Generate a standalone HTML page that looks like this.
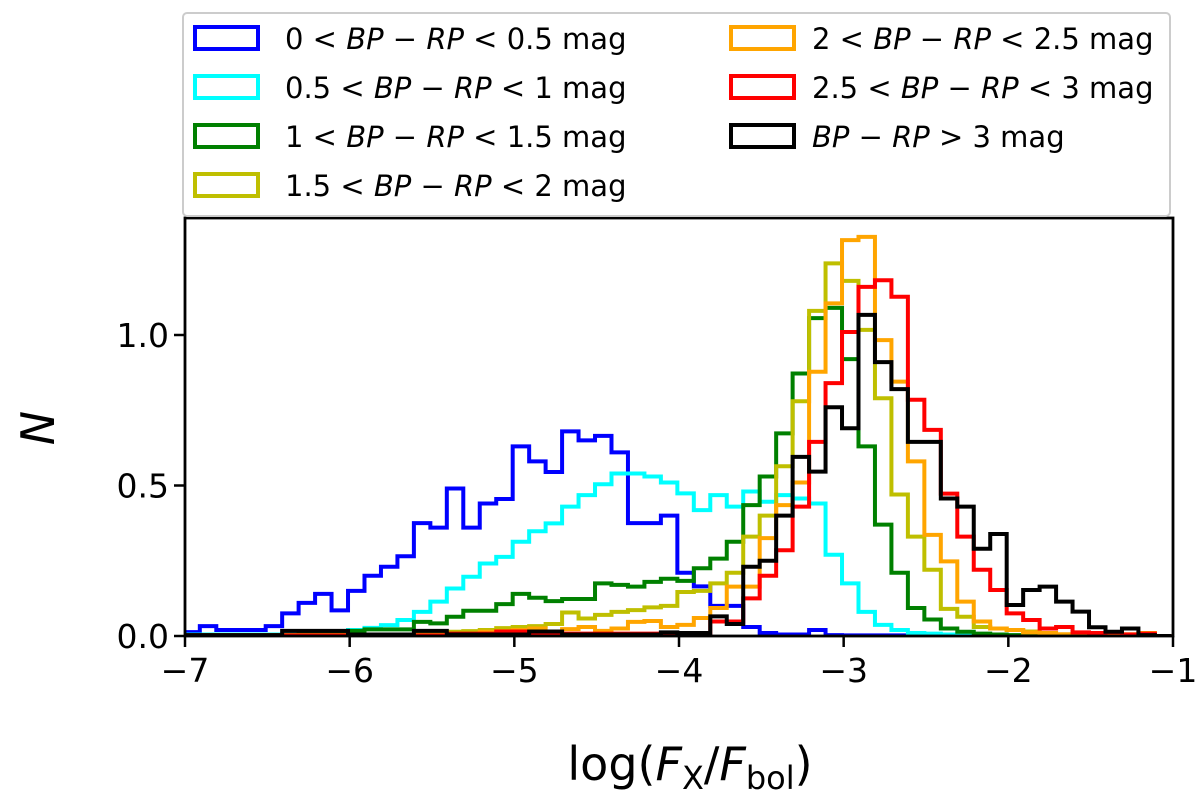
<!DOCTYPE html>
<html><head><meta charset="utf-8"><style>
html,body{margin:0;padding:0;background:#fff;}
svg{display:block;font-family:"DejaVu Sans","Liberation Sans",sans-serif;}
</style></head><body>
<svg id="chart" width="1200" height="803" viewBox="0 0 1200 803" xmlns="http://www.w3.org/2000/svg">
<defs><clipPath id="clip"><rect x="185" y="218" width="988" height="418"/></clipPath></defs>
<rect width="1200" height="803" fill="#fff"/>
<g id="series" clip-path="url(#clip)"></g>
<g id="axes"></g>
<g id="legend"></g>
</svg>
<script>
const binStart = -7.01;
const binWidth = 0.1;
const seriesNames = ["0-0.5","0.5-1","1-1.5","1.5-2","2-2.5","2.5-3",">3"];
const seriesColors = ["#0000ff","#00ffff","#008000","#bfbf00","#ffa500","#ff0000","#000000"];
const blueVals = [0.013,0.033,0.02,0.02,0.02,0.033,0.075,0.11,0.14,0.085,0.15,0.2,0.23,0.265,0.375,0.36,0.49,0.36,0.44,0.455,0.63,0.58,0.545,0.68,0.65,0.665,0.61,0.375,0.375,0.4,0.21,0.165,0.1,0.1,0.03,0.01,0.005,0.005,0.02,0.003,0.002,0.002,0.002,0.002,0.002,0.002,0.002,0.002,0.002,0.002,0,0,0,0,0,0,0,0,0,0];
const cyanVals = [0.005,0.005,0.005,0.005,0.005,0.005,0.008,0.005,0.005,0.016,0.02,0.027,0.036,0.053,0.08,0.114,0.158,0.197,0.241,0.263,0.313,0.348,0.374,0.43,0.468,0.504,0.54,0.54,0.53,0.51,0.474,0.418,0.468,0.43,0.48,0.446,0.468,0.457,0.44,0.27,0.175,0.08,0.037,0.02,0.01,0.008,0.005,0.004,0.002,0.002,0.002,0.002,0.002,0.002,0.002,0,0,0,0,0];
const greenVals = [0.003,0.003,0.003,0.003,0.003,0.003,0.003,0.005,0.008,0.008,0.017,0.022,0.022,0.022,0.047,0.042,0.064,0.084,0.084,0.106,0.14,0.127,0.116,0.123,0.123,0.175,0.17,0.164,0.18,0.19,0.183,0.225,0.257,0.313,0.435,0.53,0.673,0.872,1.056,1.09,0.92,0.63,0.37,0.21,0.093,0.055,0.025,0.014,0.008,0.005,0.003,0.003,0.003,0.003,0.003,0.003,0.002,0.002,0.002,0];
const oliveVals = [0.003,0.003,0.003,0.003,0.003,0.003,0.003,0.003,0.003,0.003,0.003,0.003,0.003,0.005,0.005,0.01,0.014,0.016,0.02,0.026,0.03,0.033,0.04,0.078,0.058,0.07,0.08,0.086,0.095,0.1,0.146,0.15,0.175,0.21,0.33,0.4,0.564,0.78,1.08,1.238,1.18,1.017,0.79,0.47,0.33,0.22,0.09,0.064,0.03,0.025,0.02,0.015,0.005,0.005,0.005,0.005,0.005,0.005,0.003,0];
const orangeVals = [0.002,0.002,0.002,0.002,0.002,0.002,0.002,0.002,0.002,0.002,0.002,0.002,0.002,0.002,0.002,0.002,0.002,0.002,0.014,0.016,0.02,0.025,0.014,0.023,0.03,0.017,0.025,0.047,0.05,0.03,0.037,0.06,0.093,0.164,0.164,0.325,0.435,0.51,0.878,1.105,1.315,1.326,0.983,0.845,0.58,0.336,0.248,0.114,0.048,0.025,0.02,0.012,0.01,0.006,0.006,0.006,0.006,0.006,0.01,0];
const redVals = [0.002,0.002,0.002,0.002,0.002,0.002,0.002,0.002,0.002,0.002,0.002,0.002,0.002,0.002,0.002,0.002,0.008,0.008,0.008,0.015,0.015,0.008,0.008,0.008,0.008,0.008,0.008,0.008,0.008,0.008,0.01,0.01,0.048,0.048,0.125,0.2,0.285,0.43,0.645,0.84,1.01,1.16,1.182,1.127,0.785,0.685,0.473,0.33,0.22,0.153,0.075,0.053,0.025,0.03,0.012,0.01,0.012,0.005,0.008,0];
const blackVals = [0.003,0.003,0.003,0.003,0.003,0.003,0.017,0.017,0.017,0.017,0.005,0.005,0.005,0.005,0.017,0.017,0.005,0.005,0.005,0.005,0.005,0.015,0.015,0.005,0.005,0.005,0.005,0.005,0.005,0.012,0.01,0.01,0.065,0.04,0.23,0.25,0.4,0.595,0.546,0.76,0.69,1.067,0.91,0.82,0.645,0.645,0.457,0.43,0.29,0.339,0.103,0.153,0.164,0.114,0.081,0.029,0.014,0.025,0.003,0];
const xTicks = [-7,-6,-5,-4,-3,-2,-1];
const xTickLabels = ["\u22127","\u22126","\u22125","\u22124","\u22123","\u22122","\u22121"];
const yTicks = [0,0.5,1.0];
const yTickLabels = ["0.0","0.5","1.0"];
const legendLabels = [
 ["0 < ","0.5 mag"],["0.5 < ","1 mag"],["1 < ","1.5 mag"],["1.5 < ","2 mag"],
 ["2 < ","2.5 mag"],["2.5 < ","3 mag"],["",""]
];

const NS="http://www.w3.org/2000/svg";
const X0=185,X1=1173,Y0=636,YT=218;
function xs(v){return X0+(v-(-7))*(X1-X0)/6;}
function ys(v){return Y0-v*301;}
function mk(tag,attrs,parent){const e=document.createElementNS(NS,tag);for(const k in attrs)e.setAttribute(k,attrs[k]);parent.appendChild(e);return e;}

const allVals=[blueVals,cyanVals,greenVals,oliveVals,orangeVals,redVals,blackVals];
const sg=document.getElementById('series');
allVals.forEach((vals,i)=>{
  let d="M"+xs(binStart)+","+ys(0);
  vals.forEach((v,j)=>{
    const a=xs(binStart+j*binWidth),b=xs(binStart+(j+1)*binWidth);
    d+=" L"+a+","+ys(v)+" L"+b+","+ys(v);
  });
  d+=" L"+xs(binStart+vals.length*binWidth)+","+ys(0);
  const p=mk('path',{d:d,fill:'none',stroke:seriesColors[i],'stroke-width':4,'stroke-linejoin':'miter'},sg);
  
  
});

const ax=document.getElementById('axes');
const frame=mk('rect',{x:X0,y:YT,width:X1-X0,height:Y0-YT,fill:'none',stroke:'#000','stroke-width':2.8},ax);


xTicks.forEach((t,i)=>{
  const x=xs(t);
  const tl=mk('line',{x1:x,y1:Y0,x2:x,y2:Y0+11,stroke:'#000','stroke-width':2.5},ax);
  
  
  const tx=mk('text',{x:x,y:Y0+46,'font-size':33,'text-anchor':'middle',fill:'#000'},ax);
  tx.textContent=xTickLabels[i];
  
  
});
yTicks.forEach((t,i)=>{
  const y=ys(t);
  const tl=mk('line',{x1:X0-11,y1:y,x2:X0,y2:y,stroke:'#000','stroke-width':2.5},ax);
  
  
  const tx=mk('text',{x:X0-16,y:y+12,'font-size':33,'text-anchor':'end',fill:'#000'},ax);
  tx.textContent=yTickLabels[i];
  
  
});
const yl=mk('text',{x:0,y:0,'font-size':46,'font-style':'italic','text-anchor':'middle',transform:'translate(54,428) rotate(-90)'},ax);
yl.textContent='N';


const xl=mk('text',{x:690,y:780,'font-size':46,'text-anchor':'middle'},ax);
xl.innerHTML='log(<tspan font-style="italic">F</tspan><tspan font-size="32" dy="9">X</tspan><tspan dy="-9">/</tspan><tspan font-style="italic">F</tspan><tspan font-size="32" dy="9">bol</tspan><tspan dy="-9">)</tspan>';



const lg=document.getElementById('legend');
const lb=mk('rect',{x:183,y:13,width:987,height:203,rx:4,fill:'#fff',stroke:'#ccc','stroke-width':2,'fill-opacity':0.8},lg);


const rowsY=[38,87,136,185];
seriesColors.forEach((c,i)=>{
  const col=i<4?0:1,row=i<4?i:i-4;
  const px=col?731:195, tx=col?812:285, cy=rowsY[row];
  const g=mk('g',{},lg);
  
  
  mk('rect',{x:px,y:cy-11,width:63,height:22,fill:'none',stroke:c,'stroke-width':4},g);
  const t=mk('text',{x:tx,y:cy+11,'font-size':29,fill:'#000'},g);
  if(i===6){
    t.innerHTML='<tspan font-style="italic">BP</tspan> \u2212 <tspan font-style="italic">RP</tspan> &gt; 3 mag';
  } else {
    t.innerHTML=legendLabels[i][0]+'<tspan font-style="italic">BP</tspan> \u2212 <tspan font-style="italic">RP</tspan> &lt; '+legendLabels[i][1];
  }
});
</script>
</body></html>
